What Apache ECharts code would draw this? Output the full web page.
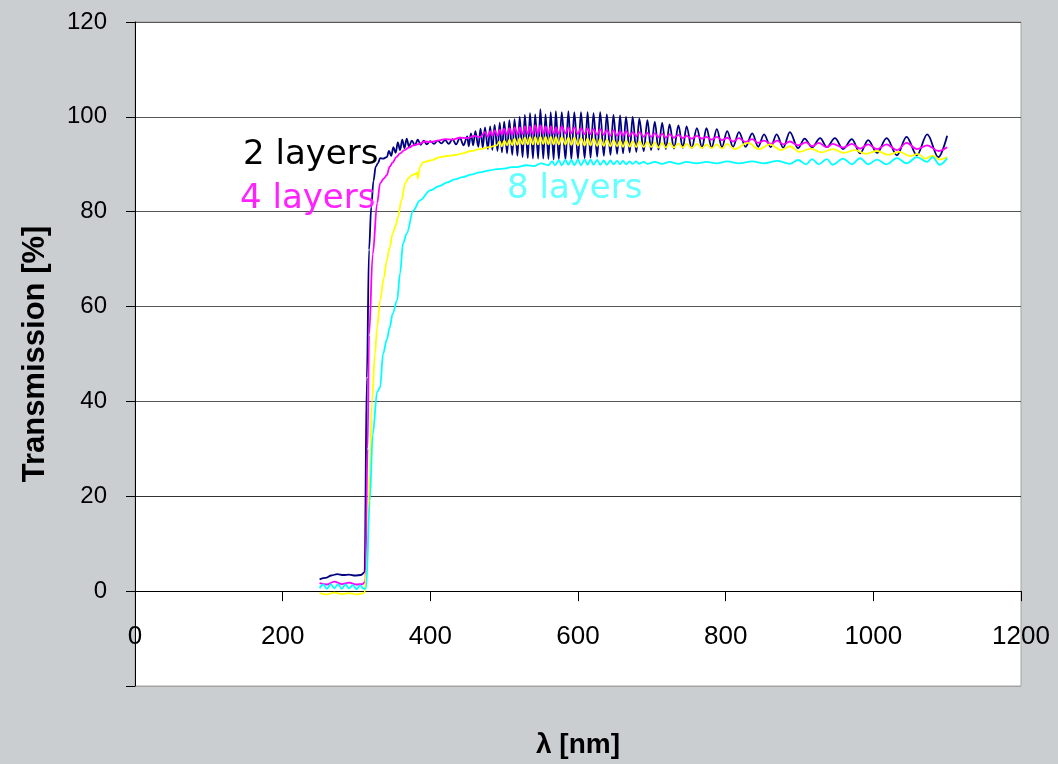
<!DOCTYPE html>
<html>
<head>
<meta charset="utf-8">
<script src="https://cdn.jsdelivr.net/npm/echarts@6/dist/echarts.min.js"></script>
<style>
  html, body { margin: 0; padding: 0; background: #cbced1; }
  #chart { width: 1058px; height: 764px; }
</style>
</head>
<body>
<div id="chart"></div>
<script>
// transmission spectra, [wavelength nm, T %]
const layers2 = [
  [250,2.5],[258,2.8],[266,3.3],[274,3.6],[282,3.4],[290,3.5],[298,3.3],[306,3.4],[311,4],[314,45],[317,72],[320,81],[323,86.5],
  [326,89.5],[329,90.2],[332,91.3],[336,91.2],[341,91.5],[344,92.8],[347,91.8],[350,93.6],[353,92.4],[356,94.6],[359,93],
  [362,95.2],[365,93.4],[368,95.4],[371,93.8],[375,95],[379,94],[383,95.2],[387,94.1],[391,95],[395,94.2],[400,94.9],
  [405,94.3],[410,95],[415,94.4],[420,95.1],[425,94.3],[430,95.3],[435,94.2],[440,95.6],[445,94],[450,95.9],[452,93.8],
  [455,96.5],[458,94],[461,97],[465,93.7],[468,97.5],[471,93.5],[474,97.8],[478,93.2],[481,98],[484,93],[487,98.3],
  [491,92.8],[494,98.8],[497,92.5],[500,99],[504,92.3],[507,99.3],[511,92],[514,99.5],[518,91.8],[521,100],[525,91.5],
  [528,100.4],[532,91.3],[535,100.8],[539,91.2],[542,100.5],[546,91.2],[549,101.6],[553,91.2],[556,100.5],[560,91.1],
  [563,101],[567,91],[570,101.2],[574,91.1],[578,101],[583,91],[587,101.2],[591,91.1],[595,101],[600,91.2],[604,101],
  [609,91.3],[613,101],[617,91.4],[621,100.8],[626,91.6],[630,101],[635,91.8],[639,100.5],[644,92],[648,100.4],[653,92.2],
  [657,100.3],[661,92.3],[665,100],[670,92.5],[674,100],[679,92.6],[683,99.6],[689,92.8],[694,99.3],[699,93],[704,99],
  [709,93.1],[714,98.8],[719,93.2],[724,98.4],[730,93.3],[736,98.2],[742,93.4],[747,98],[754,93.4],[761,97.6],[768,93.5],
  [774,97.6],[781,93.5],[788,97.4],[795,93.6],[802,97],[810,93.7],[818,96.8],[827,93.7],[836,96.5],[844,93.7],[852,96.3],
  [861,93.6],[869,96.3],[878,93.5],[887,96.8],[898,93.4],[907,95.4],[917,93.6],[928,95.5],[937,93.6],[948,95.5],[959,93.2],
  [971,95.3],[982,92.3],[993,95.1],[1005,92.4],[1018,95.5],[1032,91.9],[1045,95.8],[1059,91.9],[1073,96.3],[1088,91.5],[1100,96]
];

const layers4 = [
  [250,1.7],[260,1.4],[270,2],[280,1.5],[290,1.8],[300,1.4],[308,1.5],[312,2],[315,30],[317,54],[322,71],[328,81.8],
  [332,86],[337,87],[341,87.7],[345,89.5],[349,90.4],[354,91.5],[359,92.3],[365,93],[371,93.5],[377,94],[385,94.3],
  [392,94.8],[400,94.7],[410,95],[420,95.3],[430,95.2],[440,95.6],[450,95.5],[460,96],[467,95.7],
  [474,96.8],[478,95.8],[481,97],[484,96],[487,97.2],[491,96],[494,97.3],[497,96.2],[500,97.5],[504,96.2],[507,97.6],
  [511,96.2],[514,97.8],[518,96.3],[521,97.8],[525,96.3],[528,98],[532,96.4],[535,98],[539,96.3],[542,98.2],[546,96.4],
  [549,98.2],[553,96.5],[556,98],[560,96.4],[563,98],[567,96.4],[570,97.8],[574,96.4],[578,98],[583,96.5],[587,97.8],
  [591,96.5],[595,97.8],[600,96.4],[604,97.6],[609,96.3],[613,97.6],[617,96.3],[621,97.4],[626,96.2],[630,97.4],[635,96.2],
  [639,97.2],[644,96],[648,97.2],[653,96],[657,97],[661,96],[665,97],[670,95.9],[674,96.8],[679,95.9],[683,96.8],[689,95.8],
  [694,96.6],[699,95.8],[704,96.5],[709,95.7],[714,96.4],[719,95.6],[724,96.3],[730,95.6],[736,96.2],[742,95.5],[747,96],
  [754,95.4],[761,96],[768,95.4],[774,95.8],[781,95.2],[788,95.8],[795,95.1],[802,95.6],[810,94.8],[818,95.5],[827,94.7],
  [836,95.3],[844,94.5],[852,95],[861,94.3],[870,95],[878,94.2],[887,94.8],[898,94],[909,94.6],[917,93.8],[926,94.5],
  [937,93.6],[945,94.3],[959,93.5],[971,94.3],[982,93.3],[993,94.2],[1005,93.2],[1018,94.2],[1032,93],[1045,94.5],
  [1059,93.2],[1073,94],[1088,92.8],[1100,93.6]
];

const layers6 = [
  [250,-0.4],[260,-0.7],[270,-0.3],[280,-0.6],[290,-0.4],[300,-0.7],[308,-0.5],[311,-0.3],[314,4.9],[318,25],[321,40],
  [325,50],[328,55.6],[332,61.3],[337,66],[341,69.7],[345,72.5],[349,75.4],[353,77],[356,78.8],[361,82.5],[366,86],
  [371,87.2],[375,87.7],[380,88],[382,88.3],[383,87],[386,89.5],[390,90.4],[400,90.8],[413,91.5],[425,91.8],[435,92],
  [444,92.3],[455,92.8],[467,93.2],[480,93.6],[490,94],
  [494,94.8],[497,93.8],[500,95],[504,94],[507,95.2],[511,94],[514,95.4],[518,94.1],[521,95.5],[525,94.2],[528,95.6],
  [532,94.2],[535,95.7],[539,94.2],[542,95.7],[546,94.2],[549,95.8],[553,94.3],[556,95.8],[560,94.2],[563,95.8],[567,94.2],
  [570,95.7],[574,94.2],[578,95.7],[583,94.2],[587,95.6],[591,94.1],[595,95.6],[600,94],[604,95.5],[609,94],[613,95.4],
  [617,94],[621,95.4],[626,93.9],[630,95.3],[635,93.9],[639,95.2],[644,93.8],[648,95.1],[653,93.8],[657,95],[661,93.7],
  [665,95],[670,93.7],[674,94.9],[679,93.6],[683,94.8],[689,93.6],[694,94.7],[699,93.6],[704,94.6],[709,93.5],[714,94.5],
  [719,93.5],[724,94.5],[730,93.5],[736,94.4],[742,93.5],[747,94.3],[754,93.4],[761,94.3],[768,93.4],[774,94.2],[781,93.4],
  [788,94.2],[795,93.3],[802,94.3],[812,93.2],[830,94.5],[845,93.2],[860,94.2],[875,93],[887,93.8],[900,92.6],[915,93.3],
  [930,92.5],[945,93.2],[960,92.4],[975,93],[990,92.2],[1005,92.8],[1020,92],[1035,92.6],[1050,91.7],[1060,92.2],
  [1070,91.2],[1080,91.8],[1090,91],[1100,91.5]
];

const layers8 = [
  [250,0.6],[255,1.4],[260,0.5],[265,1.5],[270,0.6],[275,1.5],[280,0.5],[285,1.4],[290,0.6],[295,1.3],[300,0.4],[305,1.2],
  [310,0.5],[313,0.6],[318,19],[322,33],[328,42],[332,43],[336,50],[341,53],[345,55.6],[349,58.5],[355,61.3],[359,67],
  [363,73.3],[368,75.4],[377,80.3],[386,82.4],[400,84.5],[412,85.4],[423,86.2],[433,86.8],[444,87.3],[455,87.8],
  [467,88.3],[480,88.7],[490,89],[500,89.1],[510,89.4],[517,89.4],[530,89.8],[540,89.6],[550,90.2],
  [560,89.8],[565,90.6],[569,89.8],[574,90.8],[578,89.8],[583,90.9],[587,89.9],[591,90.9],[595,89.8],[600,91],[604,89.8],
  [609,91],[613,89.9],[617,91],[621,89.9],[626,90.9],[630,89.9],[635,90.8],[639,89.9],[644,90.8],[648,90],[653,90.7],
  [657,90],[661,90.7],[665,90],[670,90.6],[674,90.1],[679,90.6],[683,90.1],[689,90.5],[694,90.1],[704,90.5],[714,90.1],
  [724,90.5],[736,90.1],[747,90.5],[761,90.2],[774,90.5],[788,90.2],[802,90.6],[818,90.2],[836,90.6],[852,90.2],
  [870,90.7],[887,90.1],[898,90.9],[909,90],[917,91.1],[926,90],[937,91.1],[945,89.9],[959,91.2],[971,90],[982,91.3],
  [993,90],[1005,91],[1018,90],[1032,91.3],[1045,90.2],[1059,91.5],[1073,90.5],[1080,91.5],[1090,89.9],[1100,91.3]
];

const seriesNames = ['2 layers', '4 layers', '6 layers', '8 layers'];
const seriesColors = ['#000080', '#ff00ff', '#ffff00', '#00ffff'];
const seriesData = [layers2, layers4, layers6, layers8];

const chart = echarts.init(document.getElementById('chart'));

const option = {
  backgroundColor: '#cbced1',
  animation: false,
  grid: {
    left: 135, right: 37, top: 22, bottom: 78,
    outerBoundsMode: 'none',
    containLabel: false,
    show: true,
    backgroundColor: '#ffffff',
    borderColor: '#a4a4a4',
    borderWidth: 1
  },
  xAxis: {
    type: 'value',
    min: 0, max: 1200, interval: 200,
    name: 'λ [nm]',
    nameLocation: 'middle',
    nameGap: 45,
    nameTextStyle: { fontFamily: 'Liberation Sans', fontWeight: 'bold', fontSize: 28, color: '#000' },
    axisLine: { onZero: true, lineStyle: { color: '#000', width: 1 } },
    axisTick: { show: true, inside: false, length: 10, lineStyle: { color: '#000' } },
    // labels sit just under the zero line, inside the plot box
    axisLabel: { margin: -62, fontFamily: 'Liberation Sans', fontSize: 26, color: '#000', formatter: v => String(v) },
    splitLine: { show: false }
  },
  yAxis: {
    type: 'value',
    min: -20, max: 120, interval: 20,
    name: 'Transmission [%]',
    nameLocation: 'middle',
    nameGap: 84,
    nameTextStyle: { fontFamily: 'Liberation Sans', fontWeight: 'bold', fontSize: 31, color: '#000' },
    axisLine: { show: true, lineStyle: { color: '#000', width: 1 } },
    axisTick: { show: true, length: 9, lineStyle: { color: '#000' } },
    axisLabel: {
      margin: 28,
      fontFamily: 'Liberation Sans', fontSize: 24, color: '#000',
      formatter: v => (v < 0 ? '' : String(v))
    },
    splitLine: {
      show: true,
      lineStyle: { color: ['#a4a4a4', '#000', '#333', '#555', '#555', '#555', '#555', '#555'], width: 1 }
    }
  },
  series: seriesData.map((d, i) => ({
    name: seriesNames[i],
    type: 'line',
    data: d,
    showSymbol: false,
    smooth: 0.35,
    smoothMonotone: 'x',
    lineStyle: { color: seriesColors[i], width: 1.8 },
    z: 2 + i
  })),
  graphic: [
    { type: 'text', left: 243, top: 138, z: 100,
      style: { text: '2 layers', fontFamily: 'DejaVu Sans', fontSize: 34, fill: '#000' } },
    { type: 'text', left: 240, top: 182, z: 100,
      style: { text: '4 layers', fontFamily: 'DejaVu Sans', fontSize: 34, fill: '#ff22ff' } },
    { type: 'text', left: 507, top: 172, z: 100,
      style: { text: '8 layers', fontFamily: 'DejaVu Sans', fontSize: 34, fill: '#66ffff' } }
  ]
};

chart.setOption(option);
</script>
</body>
</html>
